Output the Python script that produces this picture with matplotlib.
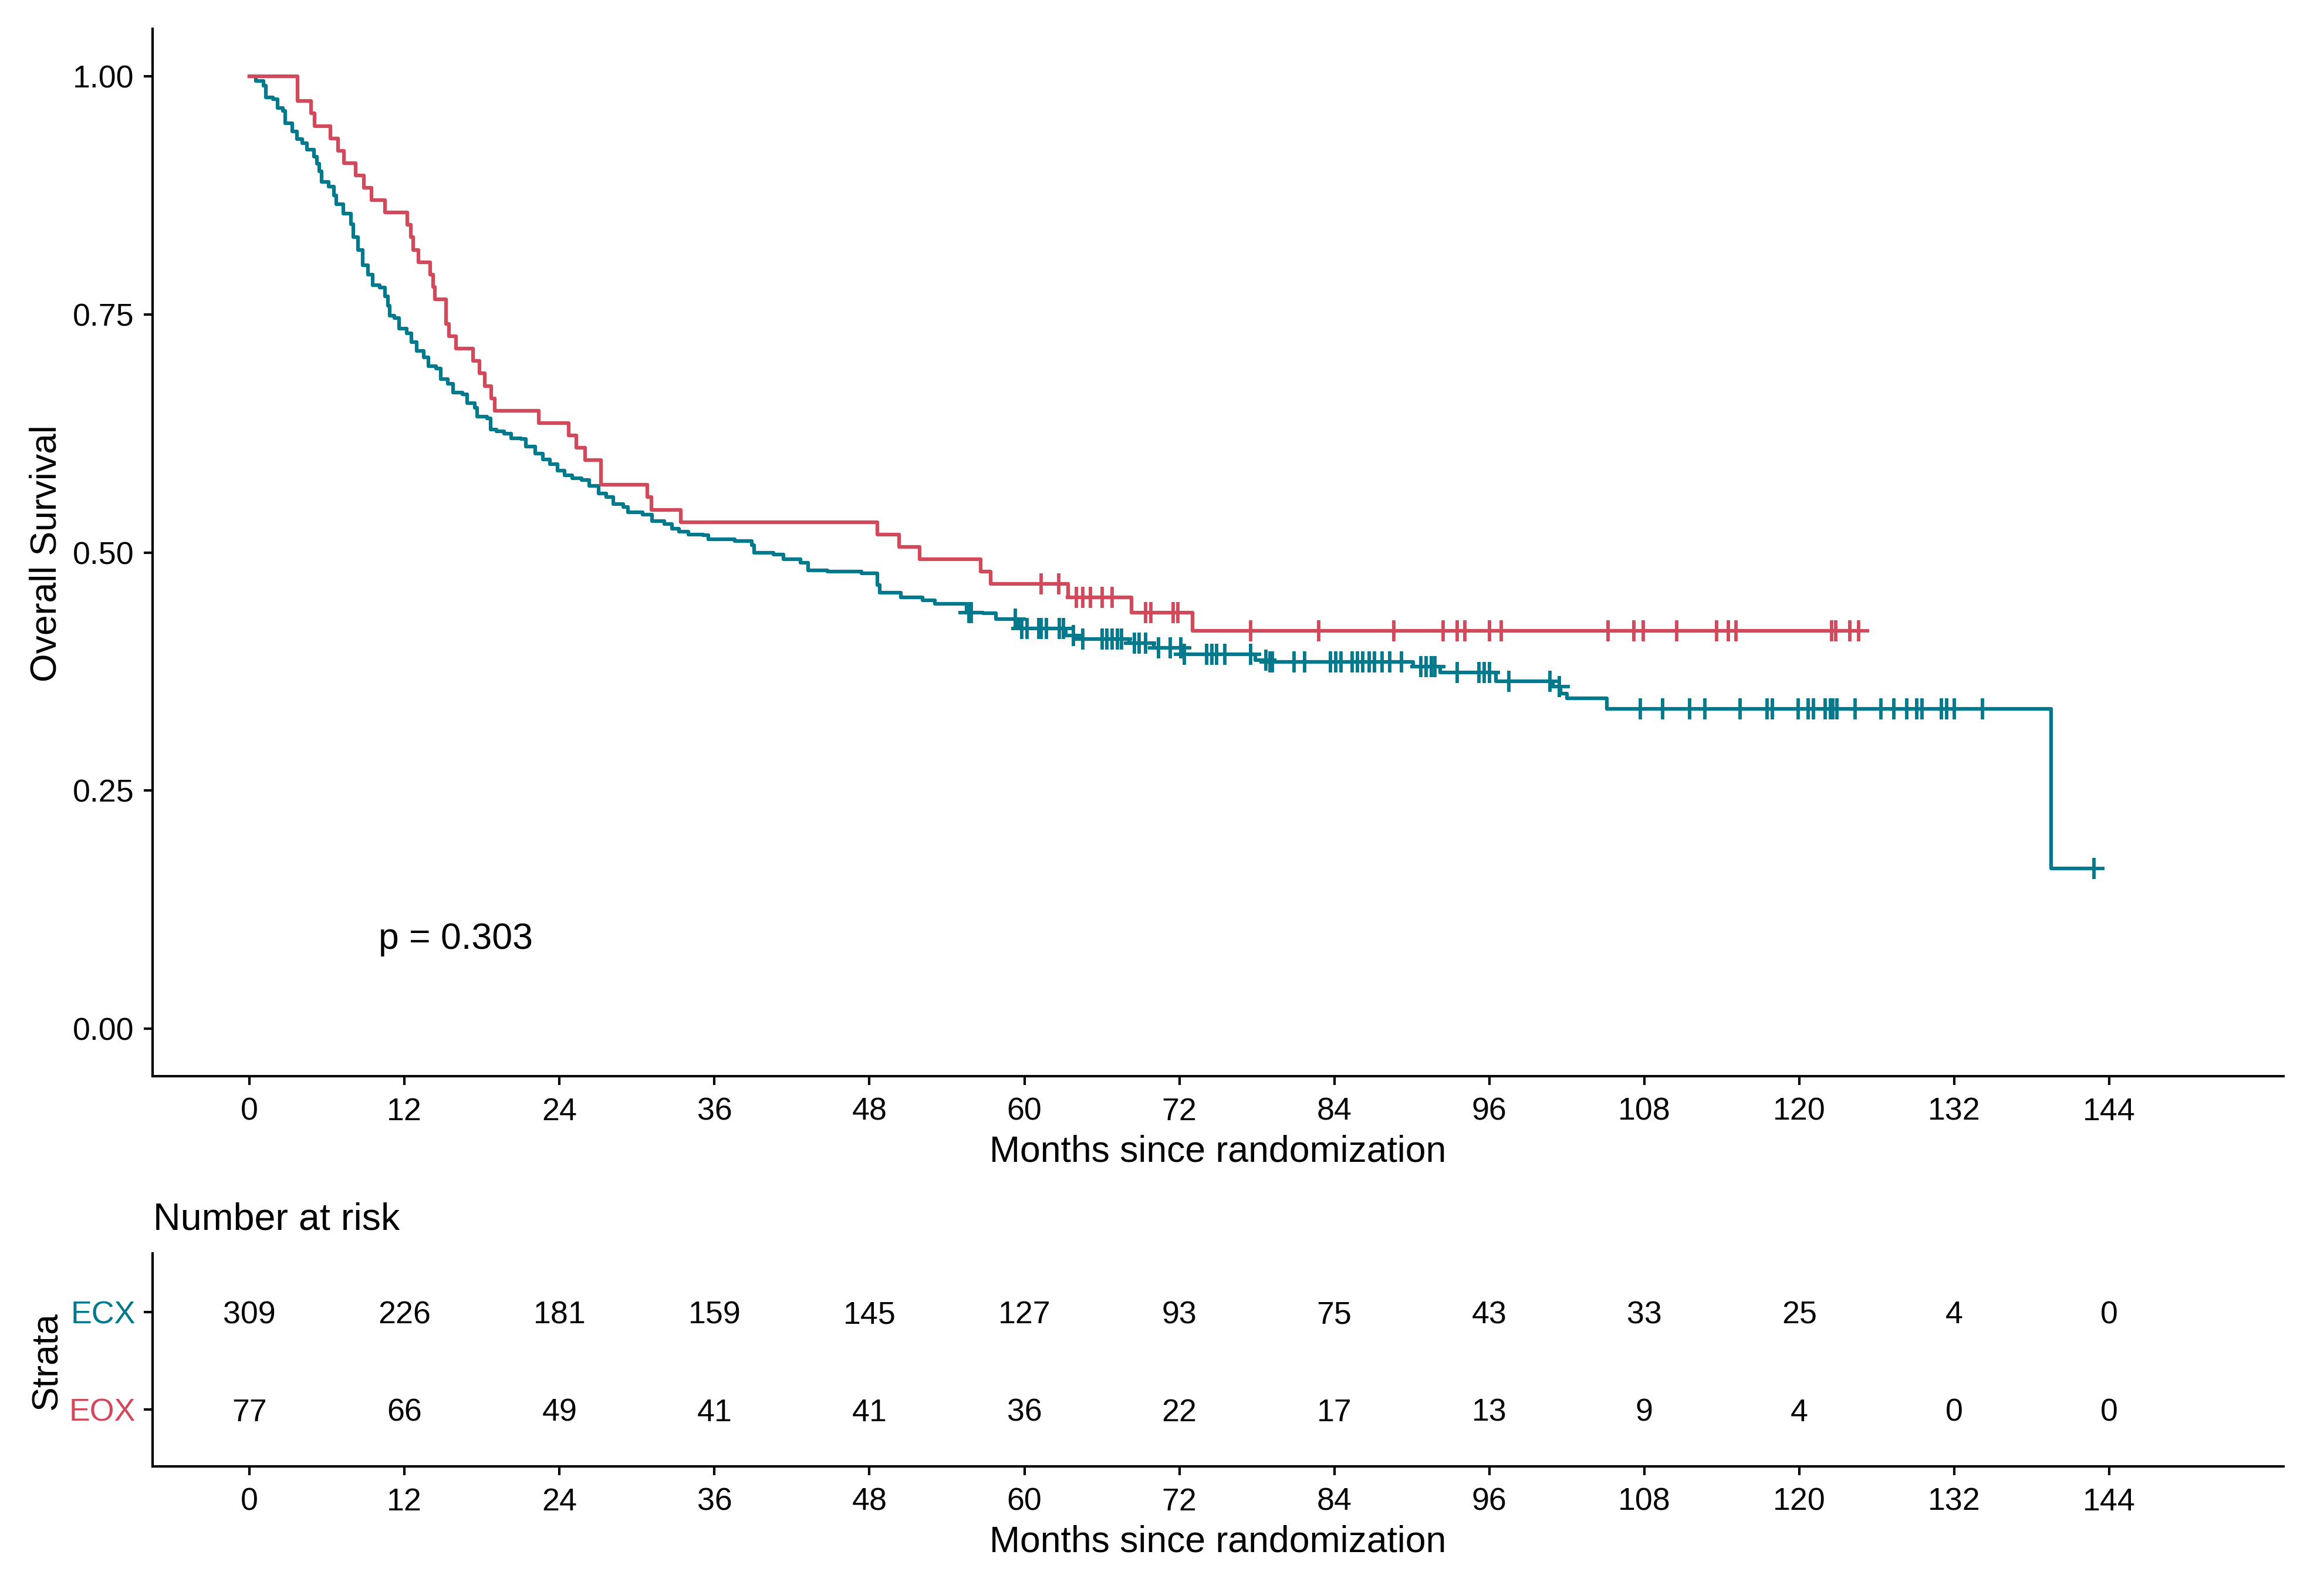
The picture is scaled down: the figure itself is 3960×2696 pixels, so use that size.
import numpy as np
import matplotlib.pyplot as plt

plt.rcParams['font.family'] = ['Liberation Sans', 'DejaVu Sans']

# Kaplan-Meier steps: (time in months, survival after the step)
ecx_time = [0, 0.5, 1.06, 1.25, 1.81, 2.19, 2.57, 2.75, 3.32, 3.69, 4.07, 4.45, 5.01, 5.2,
            5.39, 5.58, 6.14, 6.52, 6.71, 7.27, 7.84, 8.02, 8.40, 8.78, 9.15, 9.53, 10.09,
            10.47, 10.7, 10.85, 11.22, 11.60, 12.17, 12.54, 12.92, 13.48, 13.86, 14.42,
            14.80, 15.37, 15.74, 16.49, 16.87, 17.44, 17.62, 18.38, 18.68, 19.13, 19.70,
            20.26, 21.01, 21.39, 22.14, 22.71, 23.27, 23.84, 24.40, 24.97, 25.72, 26.28,
            27.04, 27.60, 28.17, 28.92, 29.30, 30.43, 31.18, 32.12, 32.69, 33.25, 34.00,
            35.13, 35.51, 37.58, 38.90, 39.09, 40.59, 41.34, 42.66, 43.23, 44.73, 47.37,
            48.6, 48.8, 50.42, 52.11, 53.05, 55.5, 56.8, 57.8, 59.5, 59.8, 63.2, 64.0, 68.1,
            70.0, 72.4, 77.9, 79.0, 90.1, 92.2, 96.5, 100.9, 101.5, 102.0, 105.1, 139.5]
ecx_surv = [1.0, 0.995, 0.990, 0.978, 0.976, 0.967, 0.964, 0.951, 0.942, 0.934, 0.930, 0.923,
            0.916, 0.908, 0.900, 0.889, 0.884, 0.875, 0.866, 0.856, 0.845, 0.831, 0.818,
            0.802, 0.792, 0.781, 0.778, 0.769, 0.759, 0.749, 0.746, 0.735, 0.730, 0.721,
            0.712, 0.705, 0.696, 0.693, 0.682, 0.677, 0.668, 0.666, 0.657, 0.652, 0.643,
            0.641, 0.629, 0.627, 0.625, 0.620, 0.619, 0.611, 0.604, 0.598, 0.593, 0.586,
            0.581, 0.578, 0.576, 0.570, 0.562, 0.558, 0.551, 0.548, 0.542, 0.540, 0.533,
            0.530, 0.525, 0.522, 0.519, 0.518, 0.514, 0.512, 0.508, 0.500, 0.498, 0.493,
            0.489, 0.481, 0.480, 0.478, 0.466, 0.458, 0.453, 0.450, 0.446, 0.437, 0.436,
            0.430, 0.423, 0.420, 0.413, 0.409, 0.405, 0.400, 0.393, 0.387, 0.385, 0.380,
            0.374, 0.365, 0.359, 0.352, 0.347, 0.336, 0.168]
ecx_end = 142.8
ecx_censor = [55.7, 55.9, 59.3, 59.8, 60.2, 61.1, 61.3, 61.7, 62.7, 63.0, 63.8, 64.5, 66.0,
              66.4, 66.8, 67.2, 67.5, 68.5, 68.9, 69.4, 70.4, 71.3, 72.1, 72.4, 74.1, 74.5,
              74.9, 75.5, 77.5, 78.7, 79.0, 79.2, 80.9, 81.7, 83.7, 84.1, 84.5, 85.4, 85.8,
              86.2, 86.7, 87.1, 87.7, 88.3, 89.2, 90.7, 91.1, 91.5, 91.8, 93.5, 95.2, 95.6,
              96.0, 97.5, 100.7, 101.4, 107.7, 109.4, 111.5, 112.7, 115.4, 117.5, 117.9,
              119.9, 120.7, 121.1, 122.0, 122.4, 122.6, 122.9, 124.3, 126.3, 127.3, 128.3,
              129.1, 129.5, 131.0, 131.4, 132.0, 134.2, 142.8]

eox_time = [0, 3.7, 4.75, 5.05, 6.26, 6.86, 7.3, 8.2, 8.85, 9.42, 10.5, 12.2, 12.5, 12.66,
            13.1, 14.0, 14.2, 14.35, 15.2, 15.45, 15.97, 17.3, 17.8, 18.2, 18.7, 19.0, 22.4,
            24.7, 25.3, 26.0, 27.2, 30.8, 31.1, 33.4, 48.6, 50.3, 51.9, 56.6, 57.4, 63.4,
            68.3, 73.0]
eox_surv = [1.0, 0.974, 0.961, 0.948, 0.935, 0.922, 0.909, 0.896, 0.883, 0.870, 0.857,
            0.844, 0.831, 0.818, 0.805, 0.792, 0.779, 0.766, 0.740, 0.727, 0.714, 0.701,
            0.688, 0.675, 0.662, 0.649, 0.636, 0.623, 0.610, 0.597, 0.571, 0.558, 0.545,
            0.532, 0.519, 0.506, 0.493, 0.480, 0.467, 0.453, 0.437, 0.418]
eox_end = 124.6
eox_censor = [61.3, 62.65, 64.0, 64.5, 65.1, 66.0, 66.8, 69.4, 69.8, 71.5, 71.9, 77.5, 82.8,
              88.6, 92.4, 93.5, 94.1, 96.0, 96.9, 105.2, 107.2, 107.9, 110.5, 113.6, 114.5,
              115.1, 122.5, 122.8, 123.9, 124.6]

# number at risk table
risk_times = [0, 12, 24, 36, 48, 60, 72, 84, 96, 108, 120, 132, 144]
ecx_risk = [309, 226, 181, 159, 145, 127, 93, 75, 43, 33, 25, 4, 0]
eox_risk = [77, 66, 49, 41, 41, 36, 22, 17, 13, 9, 4, 0, 0]

p_text = 'p = 0.303'
c_ecx = '#00798C'
c_eox = '#D1495B'


def draw_curve(ax, times, surv, end, censor, color):
    t = np.array(times)
    s = np.array(surv)
    ax.step(np.r_[t, end], np.r_[s, s[-1]], where='post', color=color, lw=1.5)
    idx = np.searchsorted(t, censor, side='right') - 1
    ax.plot(censor, s[idx], ls='none', marker='+', ms=8.5, mew=1.4, color=color)


def style_axis(ax):
    for side in ['top', 'right']:
        ax.spines[side].set_visible(False)
    for side in ['left', 'bottom']:
        ax.spines[side].set_linewidth(1.0)
    ax.tick_params(direction='out', length=3.6, width=1.0, labelsize=12.9, colors='black')
    ax.tick_params(axis='x', pad=5)
    ax.tick_params(axis='y', pad=4)
    ax.set_xlim(-7.5, 157.5)
    ax.set_xticks(risk_times)


fig = plt.figure(figsize=(13.2, 8.9867), dpi=300)

# 生存曲线
ax = fig.add_axes([0.0657, 0.3197, 0.9169, 0.6621])
draw_curve(ax, ecx_time, ecx_surv, ecx_end, ecx_censor, c_ecx)
draw_curve(ax, eox_time, eox_surv, eox_end, eox_censor, c_eox)
style_axis(ax)
ax.set_ylim(-0.05, 1.05)
ax.set_yticks([0, 0.25, 0.5, 0.75, 1.0])
ax.set_yticklabels(['0.00', '0.25', '0.50', '0.75', '1.00'])
ax.text(10.0, 0.084, p_text, fontsize=15, ha='left', va='baseline')

# 风险表
rt = fig.add_axes([0.0657, 0.0731, 0.9169, 0.1346])
style_axis(rt)
rt.set_ylim(0.42, 2.6)
rt.set_yticks([2, 1])
rt.set_yticklabels(['ECX', 'EOX'])
rt.tick_params(axis='y', pad=3.4)
for lab, c in zip(rt.get_yticklabels(), [c_ecx, c_eox]):
    lab.set_color(c)
for x, a, b in zip(risk_times, ecx_risk, eox_risk):
    rt.text(x, 2, str(a), fontsize=12.9, ha='center', va='center_baseline')
    rt.text(x, 1, str(b), fontsize=12.9, ha='center', va='center_baseline')

# 标签
W, H = 3960, 2696
fig.text(2075 / W, 1 - 1979 / H, 'Months since randomization', fontsize=15,
         ha='center', va='baseline')
fig.text(2075 / W, 1 - 2644 / H, 'Months since randomization', fontsize=15,
         ha='center', va='baseline')
fig.text(96 / W, 1 - 943 / H, 'Overall Survival', fontsize=15, rotation=90,
         ha='center', va='baseline', rotation_mode='anchor')
fig.text(97 / W, 1 - 2320 / H, 'Strata', fontsize=15, rotation=90,
         ha='center', va='baseline', rotation_mode='anchor')
fig.text(261 / W, 1 - 2095 / H, 'Number at risk', fontsize=15.5, ha='left', va='baseline')

fig.savefig('out.png', dpi=300, facecolor='white')
